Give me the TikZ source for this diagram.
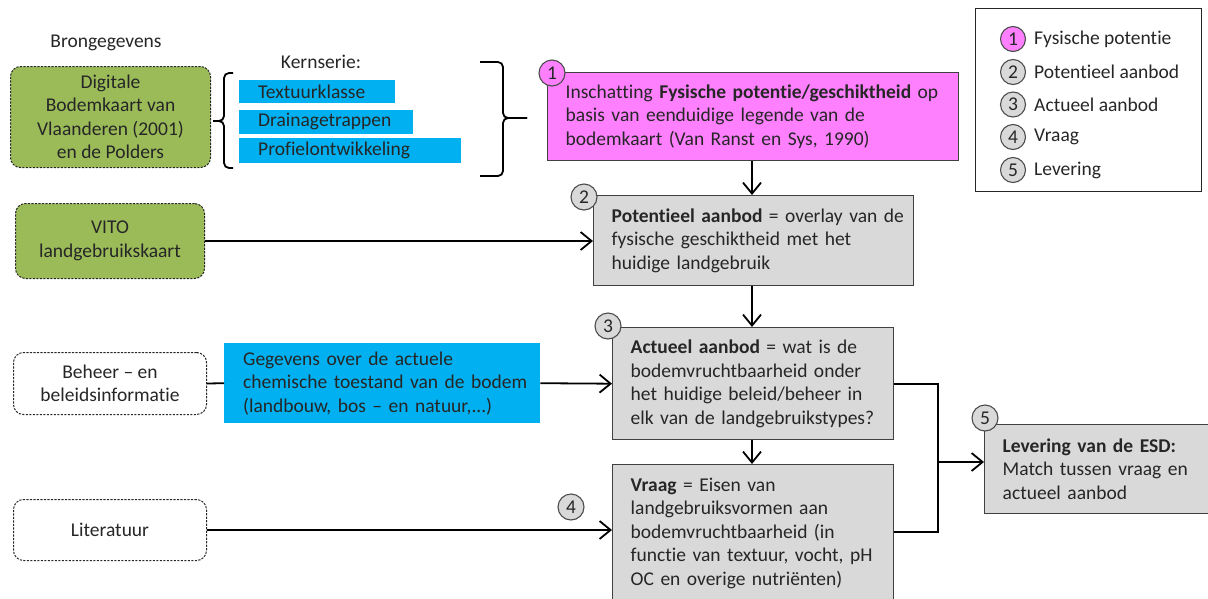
\documentclass[tikz,border=0pt]{standalone}
\usepackage{fontspec}
\setmainfont{Carlito}[Ligatures={NoCommon}]
\usetikzlibrary{arrows.meta}
\definecolor{pinkf}{HTML}{FF80FF}
\definecolor{greenf}{HTML}{9BBB59}
\definecolor{bluef}{HTML}{00B0F0}
\definecolor{grayf}{HTML}{D9D9D9}
\definecolor{txt}{HTML}{262626}
\newcommand\myline[1]{\mbox{#1}}
\begin{document}
\begin{tikzpicture}[x=1pt,y=-1pt,
  font=\fontsize{19.5}{23.5}\selectfont, text=txt,
  srcbox/.style={draw=black!85, dash pattern=on 2.2pt off 1.3pt, rounded corners=10pt,
    line width=1pt, align=center, inner sep=0pt, anchor=north west},
  procbox/.style={draw=black!75, line width=1.4pt, fill=grayf, align=left,
    inner xsep=18pt, inner ysep=0pt, anchor=north west},
  bar/.style={fill=bluef, anchor=north west, align=left, inner xsep=19pt, inner ysep=0pt},
  num/.style={circle, draw=black!70, fill=grayf, line width=1.1pt, minimum size=26pt, inner sep=0pt},
  lnum/.style={num, minimum size=25pt},
  conn/.style={line width=1.8pt, black},
  arr/.style={conn, -{Straight Barb[length=11pt,width=18pt,line width=1.8pt]}},
  bracestyle/.style={line width=1.8pt, rounded corners=5pt, black},
  legtext/.style={anchor=west, inner xsep=0pt}]

\useasboundingbox (0,0) rectangle (1208,598);

% left column
\node (bronlabel) at (106,43) {Brongegevens};
\node[srcbox, fill=greenf, minimum width=200pt, minimum height=101pt] (dbk) at (10,66)
  {Digitale\\Bodemkaart van\\Vlaanderen (2001)\\en de Polders};
\node[srcbox, fill=greenf, minimum width=189pt, minimum height=75pt] (vito) at (15,203)
  {VITO\\landgebruikskaart};
\node[srcbox, minimum width=193pt, minimum height=62pt] (beheer) at (13,352)
  {Beheer -- en\\beleidsinformatie};
\node[srcbox, minimum width=193pt, minimum height=61pt] (lit) at (13,499)
  {Literatuur};

% kernserie
\node (kern) at (321,62) {Kernserie:};
\node[bar, text width=118pt, minimum height=23pt] (tex) at (239,80) {\myline{Textuurklasse}};
\node[bar, text width=136pt, minimum height=24pt] (drain) at (239,109.5) {\myline{Drainagetrappen}};
\node[bar, text width=184pt, minimum height=25pt] (prof) at (239,137.5) {\myline{Profielontwikkeling}};

% braces
\coordinate (lbtip) at (213,121);
\coordinate (rbtip) at (527,118);
\draw[bracestyle] (233,73) -- (224,73) -- (224,121) -- (lbtip);
\draw[bracestyle] (lbtip) -- (224,121) -- (224,168) -- (233,168);
\draw[bracestyle] (480,62) -- (503,62) -- (503,118) -- (rbtip);
\draw[bracestyle] (rbtip) -- (503,118) -- (503,176) -- (480,176);

% blue data box
\node[bar, text width=278pt, minimum height=80pt] (geg) at (224,343)
  {\myline{Gegevens over de actuele}\\\myline{chemische toestand van de bodem}\\\myline{(landbouw, bos -- en natuur,...)}};

% process boxes
\node[procbox, fill=pinkf, text width=375pt, minimum height=88pt] (fys) at (547,72)
  {\myline{Inschatting \textbf{Fysische potentie/geschiktheid} op}\\\myline{basis van eenduidige legende van de}\\\myline{bodemkaart (Van Ranst en Sys, 1990)}};
\node[procbox, text width=284pt, minimum height=90pt] (pot) at (593,195)
  {\myline{\textbf{Potentieel aanbod} = overlay van de}\\\myline{fysische geschiktheid met het}\\\myline{huidige landgebruik}};
\node[procbox, text width=245pt, minimum height=112pt] (act) at (612,327)
  {\myline{\textbf{Actueel aanbod} = wat is de}\\\myline{bodemvruchtbaarheid onder}\\\myline{het huidige beleid/beheer in}\\\myline{elk van de landgebruikstypes?}};
\node[procbox, text width=245pt, inner ysep=13pt] (vraag) at (612,464)
  {\myline{\textbf{Vraag} = Eisen van}\\\myline{landgebruiksvormen aan}\\\myline{bodemvruchtbaarheid (in}\\\myline{functie van textuur, vocht, pH}\\\myline{OC en overige nutri\"enten)}\\[8pt]};
\node[procbox, text width=234pt, minimum height=89pt] (lev) at (984,424)
  {\myline{\textbf{Levering van de ESD:}}\\\myline{Match tussen vraag en}\\\myline{actueel aanbod}};

% number circles
\node[num, fill=pinkf] (n1) at (552,73) {1};
\node[num] (n2) at (584,197) {2};
\node[num] (n3) at (608,326) {3};
\node[num] (n4) at (571,507) {4};
\node[num] (n5) at (985,418) {5};

% connectors
\draw[arr] (fys.south -| 752,0) -- (pot.north -| 752,0);
\draw[arr] (pot.south -| 752,0) -- (act.north -| 752,0);
\draw[arr] (act.south -| 752,0) -- (vraag.north -| 752,0);
\draw[arr] (vito.east) -- (vito.east -| pot.west);
\draw[conn] (beheer.east) -- (geg.west);
\draw[arr] (geg.east) -- (act.west);
\draw[arr] (lit.east) -- (lit.east -| vraag.west);
\coordinate (join) at (938,462);
\draw[conn] (act.east) -- (act.east -| join) -- (938,532) -- (vraag.east |- 0,532);
\draw[arr] (join) -- (join -| lev.west);

% legend
\node[draw=black!85, line width=1pt, minimum width=226pt, minimum height=183pt, anchor=north west, inner sep=0pt] (legend) at (975,8) {};
\node[lnum, fill=pinkf] (l1) at (1013,39) {1};
\node[lnum] (l2) at (1013,72) {2};
\node[lnum] (l3) at (1013,104.5) {3};
\node[lnum] (l4) at (1013,137) {4};
\node[lnum] (l5) at (1013,170) {5};
\node[legtext] (t1) at (1034,39) {Fysische potentie};
\node[legtext] (t2) at (1034,72) {Potentieel aanbod};
\node[legtext] (t3) at (1034,104.5) {Actueel aanbod};
\node[legtext] (t4) at (1034,137) {Vraag};
\node[legtext] (t5) at (1034,170) {Levering};
\end{tikzpicture}
\end{document}
